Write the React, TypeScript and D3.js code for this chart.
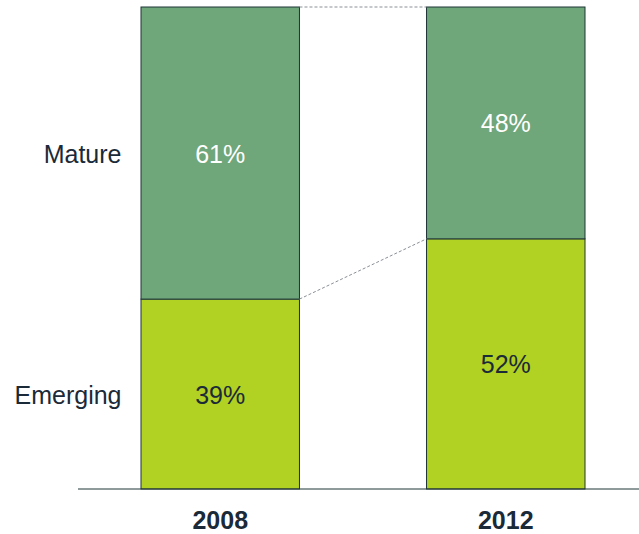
import React from "react";
import * as d3 from "d3";

const years = ["2008", "2012"];
const emerging = [39.4, 51.9];
const mature = [60.6, 48.1];
const categories = ["Mature", "Emerging"];

const W = 639;
const H = 534;
const FONT = "'Liberation Sans', Arial, sans-serif";
const FS = 25;
const BASE_OFF = 9.5;

export default function App() {
  const x = d3.scaleBand<string>().domain(years).range([141, 585]).paddingInner(0.445).paddingOuter(0);
  const y = d3.scaleLinear().domain([0, 100]).range([489, 7]);
  const bw = x.bandwidth();
  const stackData = years.map((yr, i) => ({ year: yr, Emerging: emerging[i], Mature: mature[i] }));
  const series = d3.stack<any>().keys(["Emerging", "Mature"])(stackData);
  const colors: Record<string, string> = { Emerging: "#b1d123", Mature: "#6fa67a" };
  const labelColors: Record<string, string> = { Emerging: "#1b2a38", Mature: "#ffffff" };

  const connectors = series.map((s) => ({
    x1: (x(years[0]) as number) + bw,
    y1: y(s[0][1]),
    x2: x(years[1]) as number,
    y2: y(s[1][1]),
  }));

  const catY: Record<string, number> = {};
  series.forEach((s) => {
    catY[s.key] = (y(s[0][0]) + y(s[0][1])) / 2;
  });

  return (
    <svg width={W} height={H} style={{ position: "absolute", left: 0, top: 0 }} fontFamily={FONT}>
      <rect width={W} height={H} fill="#ffffff" />
      {series.map((s) =>
        s.map((d, i) => (
          <rect
            key={s.key + i}
            x={x(years[i])}
            y={y(d[1])}
            width={bw}
            height={y(d[0]) - y(d[1])}
            fill={colors[s.key]}
            stroke="#1e3436"
            strokeWidth={1}
          />
        ))
      )}
      {connectors.map((c, i) => (
        <line
          key={i}
          x1={c.x1}
          y1={c.y1}
          x2={c.x2}
          y2={c.y2}
          stroke="#8a8f96"
          strokeWidth={1}
          strokeDasharray="3,2"
        />
      ))}
      {series.map((s) =>
        s.map((d, i) => (
          <text
            key={"l" + s.key + i}
            x={(x(years[i]) as number) + bw / 2}
            y={(y(d[0]) + y(d[1])) / 2 + BASE_OFF}
            textAnchor="middle"
            fontSize={FS}
            fill={labelColors[s.key]}
          >
            {`${Math.round(d[1] - d[0])}%`}
          </text>
        ))
      )}
      <line x1={78} x2={639} y1={y(0)} y2={y(0)} stroke="#1e3436" strokeWidth={1} />
      {years.map((yr) => (
        <text
          key={yr}
          x={(x(yr) as number) + bw / 2}
          y={529}
          textAnchor="middle"
          fontSize={FS}
          fontWeight="bold"
          fill="#1b2a38"
        >
          {yr}
        </text>
      ))}
      {categories.map((c) => (
        <text key={c} x={121.5} y={catY[c] + BASE_OFF} textAnchor="end" fontSize={FS} fill="#1b2a38">
          {c}
        </text>
      ))}
    </svg>
  );
}
